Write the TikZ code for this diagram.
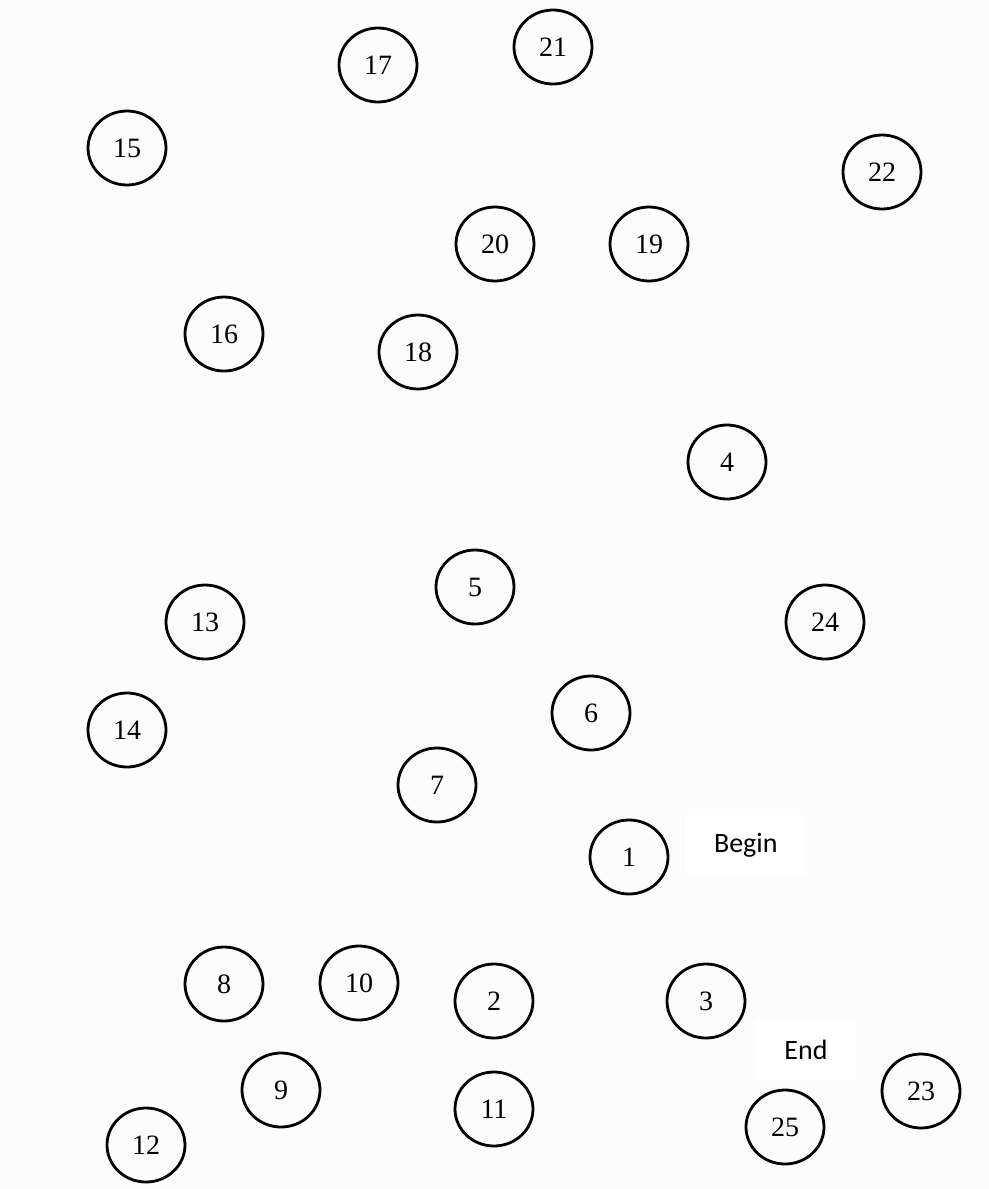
\documentclass[tikz,border=0pt]{standalone}
\usepackage{fontspec}
\setmainfont{Liberation Serif}
\newfontfamily\labelfont{Carlito}
\usetikzlibrary{shapes.geometric,positioning,backgrounds}
\tikzset{
  basering/.style={ellipse,draw=black,line width=1.4pt,inner sep=0pt,
    minimum width=39pt,minimum height=37pt,font=\fontsize{14}{14}\selectfont},
  tagnode/.style={rectangle,fill=white,inner sep=0pt,minimum width=60pt,
    minimum height=30pt,font=\labelfont\fontsize{14}{14}\selectfont}
}

\begin{document}
\begin{tikzpicture}[x=0.5pt,y=-0.5pt]
  %% Canvas
  \useasboundingbox[fill=black!1] (0,0) rectangle (989,1189);

  %% Upper part
  \node[basering] (c17) at (378,65) {17};
  \node[basering] (c21) at (553,47) {21};
  \node[basering] (c15) at (127,148) {15};
  \node[basering] (c22) at (882,172) {22};
  \node[basering] (c20) at (495,244) {20};
  \node[basering] (c19) at (649,244) {19};
  \node[basering] (c16) at (224,334) {16};
  \node[basering] (c18) at (418,352) {18};

  %% Middle part
  \node[basering] (c4) at (727,462) {4};
  \node[basering] (c5) at (475,587) {5};
  \node[basering] (c13) at (205,622) {13};
  \node[basering] (c24) at (825,622) {24};
  \node[basering] (c14) at (127,730) {14};
  \node[basering] (c6) at (591,713) {6};
  \node[basering] (c7) at (437,785) {7};
  \node[basering] (c1) at (629,857) {1};
  \node[tagnode,right=8pt of c1,yshift=6pt] (begin) {Begin};

  %% Lower part
  \node[basering] (c8) at (224,984) {8};
  \node[basering] (c10) at (359,983) {10};
  \node[basering] (c2) at (494,1001) {2};
  \node[basering] (c3) at (706,1001) {3};
  \node[tagnode,minimum width=50pt] (end) at (806,1050) {End};
  \node[basering] (c9) at (281,1090) {9};
  \node[basering] (c11) at (494,1109) {11};
  \node[basering] (c23) at (921,1091) {23};
  \node[basering] (c12) at (146,1145) {12};
  \node[basering] (c25) at (785,1127) {25};
\end{tikzpicture}
\end{document}
